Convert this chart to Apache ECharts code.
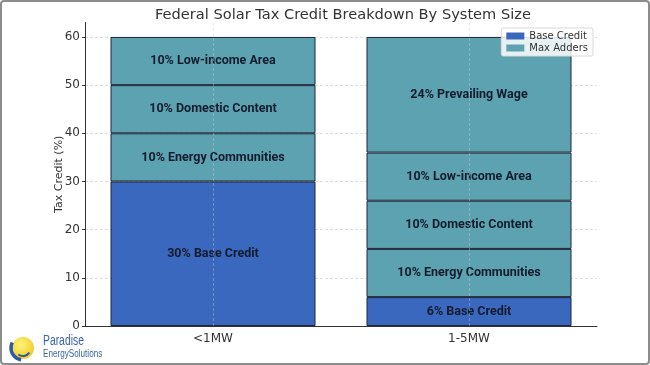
<!DOCTYPE html>
<html>
<head>
<meta charset="utf-8">
<script src="https://cdn.jsdelivr.net/npm/echarts@6/dist/echarts.min.js"></script>
<style>html,body{margin:0;padding:0;background:#fff}#c{width:650px;height:365px}</style>
</head>
<body>
<div id="c"></div>
<script>
const categories = ['<1MW', '1-5MW'];
const baseCredit = [30, 6];
const energyCommunities = [10, 10];
const domesticContent = [10, 10];
const lowIncomeArea = [10, 10];
const prevailingWage = [null, 24];
const baseLabels = ['30% Base Credit', '6% Base Credit'];
const energyLabels = ['10% Energy Communities', '10% Energy Communities'];
const domesticLabels = ['10% Domestic Content', '10% Domestic Content'];
const lowIncomeLabels = ['10% Low-income Area', '10% Low-income Area'];
const wageLabels = ['', '24% Prevailing Wage'];
const yTicks = [0, 10, 20, 30, 40, 50, 60];

const BLUE = '#3a68be';
const TEAL = '#5ca2b0';
const EDGE = '#1c2638';

function seg(name, values, labels, color, extra) {
  return Object.assign({
    name: name,
    type: 'bar',
    stack: 'total',
    barWidth: 205,
    data: values,
    itemStyle: { color: color, borderColor: EDGE, borderWidth: 1 },
    label: {
      show: true,
      position: 'inside',
      formatter: p => labels[p.dataIndex],
      fontFamily: 'Roboto',
      fontWeight: 'bold',
      fontSize: 12.5,
      color: '#141c2e'
    },
    emphasis: { disabled: true },
    animation: false
  }, extra || {});
}

const chart = echarts.init(document.getElementById('c'), null, { renderer: 'canvas' });
chart.setOption({
  animation: false,
  title: {
    text: 'Federal Solar Tax Credit Breakdown By System Size',
    left: 150, top: 3,
    textStyle: { fontFamily: 'DejaVu Sans', fontWeight: 'normal', fontSize: 14.6, color: '#333' }
  },
  legend: {
    data: ['Base Credit', 'Max Adders'],
    orient: 'vertical',
    right: 57, top: 28,
    icon: 'rect',
    itemWidth: 18, itemHeight: 7,
    itemGap: 2,
    padding: [3, 5, 3, 5],
    itemStyle: { borderWidth: 0 },
    backgroundColor: 'rgba(255,255,255,0.85)',
    borderColor: '#d8d8d8', borderWidth: 1, borderRadius: 2,
    textStyle: { fontFamily: 'DejaVu Sans', fontSize: 10, color: '#333' }
  },
  grid: { left: 85, right: 53, top: 22.5, bottom: 39, containLabel: false },
  xAxis: {
    type: 'category',
    data: categories,
    axisLine: { lineStyle: { color: '#333', width: 1 } },
    axisTick: { alignWithLabel: true, length: 3, lineStyle: { color: '#333' } },
    axisLabel: { fontFamily: 'DejaVu Sans', fontSize: 12, color: '#333', margin: 7 },
    splitLine: { show: false }
  },
  yAxis: {
    type: 'value',
    min: 0, max: 63, interval: 10,
    name: 'Tax Credit (%)',
    nameLocation: 'middle',
    nameGap: 20,
    nameMoveOverlap: false,
    nameTextStyle: { fontFamily: 'DejaVu Sans', fontSize: 11, color: '#333' },
    axisLine: { show: true, lineStyle: { color: '#333', width: 1 } },
    axisTick: { show: true, length: 3, lineStyle: { color: '#333' } },
    axisLabel: {
      fontFamily: 'DejaVu Sans', fontSize: 12, color: '#333', margin: 5,
      showMaxLabel: false,
      formatter: v => (yTicks.indexOf(v) >= 0 ? String(v) : '')
    },
    splitLine: { show: true, showMaxLine: false, lineStyle: { color: '#dcdcdc', type: [3, 2], width: 1 } }
  },
  series: [
    seg('Base Credit', baseCredit, baseLabels, BLUE, {
      markLine: {
        silent: true, symbol: 'none', label: { show: false },
        lineStyle: { color: 'rgba(205,205,205,0.4)', type: [3, 2], width: 1 },
        data: categories.map(c => ({ xAxis: c })),
        animation: false
      }
    }),
    seg('Max Adders', energyCommunities, energyLabels, TEAL),
    seg('Max Adders', domesticContent, domesticLabels, TEAL),
    seg('Max Adders', lowIncomeArea, lowIncomeLabels, TEAL),
    seg('Max Adders', prevailingWage, wageLabels, TEAL)
  ],
  graphic: [
    { type: 'rect', silent: true, z: 100,
      shape: { x: 1, y: 1, width: 648, height: 363, r: 3 },
      style: { fill: 'none', stroke: '#8c8c8c', lineWidth: 2 } },
    { type: 'circle', silent: true, z: 100,
      shape: { cx: 23, cy: 348, r: 11 },
      style: { fill: new echarts.graphic.RadialGradient(0.4, 0.35, 0.8, [
        { offset: 0, color: '#fff27a' }, { offset: 1, color: '#eec61a' }]) } },
    { type: 'arc', silent: true, z: 101,
      shape: { cx: 23, cy: 348, r: 12, startAngle: Math.PI * 0.55, endAngle: Math.PI * 1.15 },
      style: { stroke: '#2c5aa6', lineWidth: 3.5, fill: 'none' } },
    { type: 'arc', silent: true, z: 101,
      shape: { cx: 23, cy: 348, r: 8, startAngle: Math.PI * 0.2, endAngle: Math.PI * 0.7 },
      style: { stroke: '#2c5aa6', lineWidth: 2, fill: 'none' } },
    { type: 'text', silent: true, z: 101, x: 43, y: 334, scaleX: 0.74,
      style: { text: 'Paradise', fontFamily: 'Liberation Sans', fontSize: 14, fill: '#3a64b0' } },
    { type: 'text', silent: true, z: 101, x: 43, y: 348, scaleX: 0.74,
      style: { text: 'EnergySolutions', fontFamily: 'Liberation Sans', fontSize: 11, fill: '#3a64b0' } }
  ]
});
</script>
</body>
</html>
